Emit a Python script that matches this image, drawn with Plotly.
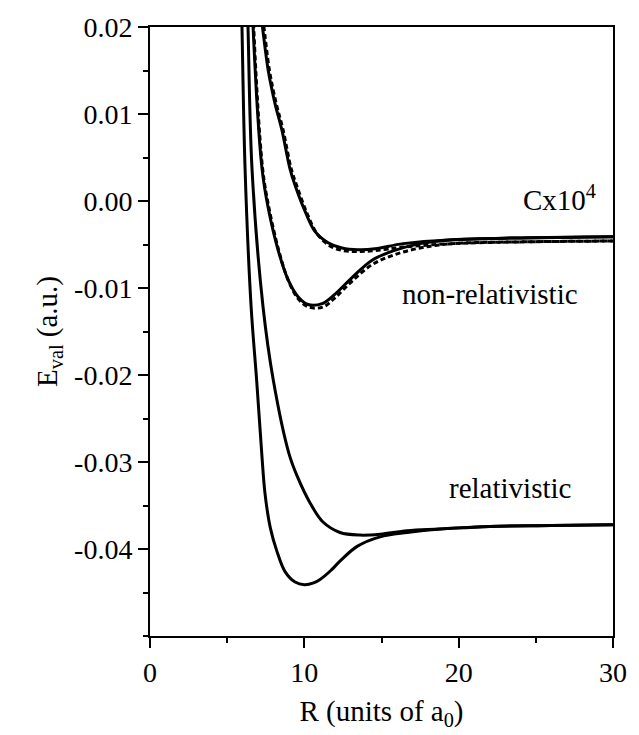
import plotly.graph_objects as go

# ---- data ----
rel_E_R = [5.90, 5.96, 6.16, 6.55, 6.91, 7.24, 7.45, 7.80, 8.23, 8.75, 9.40, 10.00, 10.60, 11.02, 11.70, 12.31, 13.42, 14.91, 16.66, 18.79, 22.0, 26.0, 30.0]
rel_E_val = [0.025, 0.020, 0.0037, -0.0121, -0.0206, -0.0290, -0.0336, -0.0376, -0.0403, -0.0426, -0.0438, -0.0441, -0.0439, -0.0435, -0.0425, -0.0414, -0.0397, -0.0386, -0.0381, -0.0377, -0.0374, -0.0373, -0.0372]

rel_C_R = [6.28, 6.35, 6.61, 7.32, 7.99, 9.00, 9.53, 10.37, 11.21, 12.31, 13.61, 14.91, 16.66, 18.79, 22.0, 26.0, 30.0]
rel_C_val = [0.024, 0.020, 0.0037, -0.0121, -0.0206, -0.0290, -0.0316, -0.0347, -0.0369, -0.0381, -0.0384, -0.0383, -0.0379, -0.0377, -0.0374, -0.0373, -0.0372]

nr_E_R = [6.60, 6.68, 7.26, 7.67, 8.31, 8.96, 9.59, 10.24, 11.15, 11.99, 13.09, 14.39, 15.8, 17.5, 19.6, 24.0, 30.0]
nr_E_val = [0.025, 0.020, 0.0037, -0.0009, -0.0057, -0.0091, -0.0110, -0.0119, -0.0118, -0.0107, -0.0088, -0.0068, -0.0057, -0.0049, -0.00446, -0.00424, -0.00412]

nr_C_R = [7.20, 7.25, 7.67, 8.10, 8.54, 9.07, 9.40, 10.05, 10.69, 11.54, 12.44, 13.48, 14.58, 16.4, 19.6, 24.0, 30.0]
nr_C_val = [0.021, 0.0205, 0.0149, 0.0112, 0.0082, 0.0037, 0.0018, -0.0012, -0.0035, -0.0048, -0.0054, -0.0056, -0.0055, -0.0049, -0.00444, -0.00424, -0.00412]

nr_E_dash_R = [6.65, 6.72, 7.30, 7.72, 8.36, 9.00, 9.63, 10.30, 11.20, 12.00, 13.10, 14.40, 15.8, 17.5, 19.6, 24.0, 30.0]
nr_E_dash_val = [0.025, 0.020, 0.0037, -0.0009, -0.0058, -0.0093, -0.0113, -0.0122, -0.0122, -0.0111, -0.0092, -0.0073, -0.0062, -0.0054, -0.0049, -0.0047, -0.0046]

nr_C_dash_R = [7.30, 7.38, 7.75, 8.18, 8.62, 9.15, 9.50, 10.15, 10.80, 11.60, 12.50, 13.50, 14.60, 16.4, 19.6, 24.0, 30.0]
nr_C_dash_val = [0.021, 0.020, 0.0149, 0.0112, 0.0082, 0.0037, 0.0018, -0.0013, -0.0037, -0.0051, -0.0057, -0.0058, -0.0057, -0.0053, -0.0049, -0.0047, -0.0046]

x_tickvals = [0, 10, 20, 30]
x_ticktext = ["0", "10", "20", "30"]
y_tickvals = [-0.04, -0.03, -0.02, -0.01, 0.0, 0.01, 0.02]
y_ticktext = ["-0.04", "-0.03", "-0.02", "-0.01", "0.00", "0.01", "0.02"]

labels = ["Cx10<sup>4</sup>", "non-relativistic", "relativistic"]
label_R = [29.0, 22.0, 23.3]
label_E = [0.0003, -0.01066, -0.0330]

FONT = "Liberation Serif"

fig = go.Figure()
solid = dict(color="black", width=3, shape="spline", smoothing=1.0)
dashed = dict(color="black", width=3, dash="5px,3px", shape="spline", smoothing=1.0)

for R, E in [(rel_E_R, rel_E_val), (rel_C_R, rel_C_val), (nr_E_R, nr_E_val), (nr_C_R, nr_C_val)]:
    fig.add_trace(go.Scatter(x=R, y=E, mode="lines", line=solid, showlegend=False, hoverinfo="skip"))
for R, E in [(nr_E_dash_R, nr_E_dash_val), (nr_C_dash_R, nr_C_dash_val)]:
    fig.add_trace(go.Scatter(x=R, y=E, mode="lines", line=dashed, showlegend=False, hoverinfo="skip"))

for t, xr, ye in zip(labels, label_R, label_E):
    fig.add_annotation(x=xr, y=ye, xref="x", yref="y", text=t, showarrow=False,
                       xanchor="right" if t.startswith("Cx") else "center", yanchor="middle",
                       font=dict(family=FONT, size=29, color="black"))

axis_common = dict(showline=True, linecolor="black", linewidth=2, mirror=True,
                   showgrid=False, zeroline=False, ticks="outside", ticklen=10,
                   tickwidth=1.5, tickcolor="black", ticklabeloverflow="allow",
                   tickfont=dict(family=FONT, size=28, color="black"))

fig.update_xaxes(range=[0, 30], tickmode="array", tickvals=x_tickvals, ticktext=x_ticktext,
                 minor=dict(ticks="outside", dtick=5, ticklen=5, tickwidth=1.5, tickcolor="black", showgrid=False),
                 title=dict(text="R (units of a<sub>0</sub>)", font=dict(family=FONT, size=29, color="black"), standoff=14),
                 **axis_common)
fig.update_yaxes(range=[-0.05, 0.02], tickmode="array", tickvals=y_tickvals, ticktext=y_ticktext,
                 minor=dict(ticks="outside", dtick=0.005, tick0=0, ticklen=5, tickwidth=1.5, tickcolor="black", showgrid=False),
                 title=dict(text="E<sub>val</sub> (a.u.)", font=dict(family=FONT, size=29, color="black"), standoff=8),
                 **axis_common)

fig.update_layout(width=639, height=735, margin=dict(l=150, r=26, t=15, b=99),
                  plot_bgcolor="white", paper_bgcolor="white",
                  font=dict(family=FONT, color="black"))

fig.write_html("out.html")
